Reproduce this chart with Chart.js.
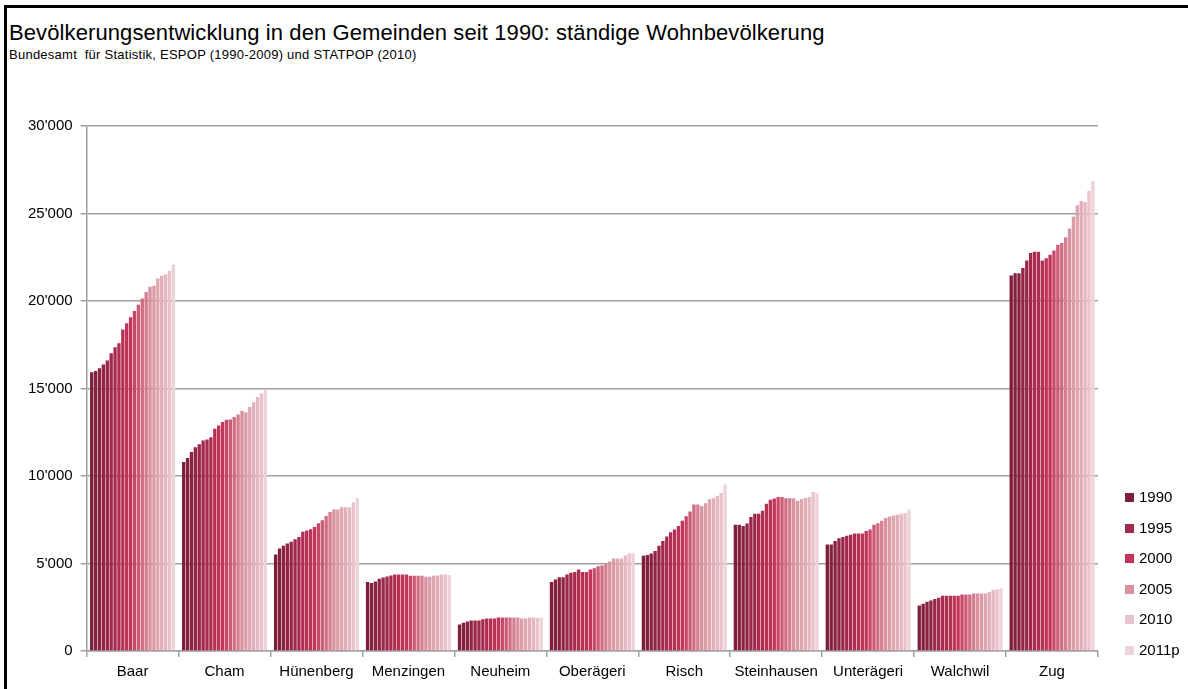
<!DOCTYPE html>
<html>
<head>
<meta charset="utf-8">
<script src="https://cdn.jsdelivr.net/npm/chart.js@4.4.1/dist/chart.umd.min.js"></script>
<style>
  html, body { margin: 0; padding: 0; background: #fff; }
  #wrap { position: relative; width: 1188px; height: 689px; overflow: hidden; }
  #frame { position: absolute; left: 4px; top: 5px; width: 1200px; height: 700px;
           border-left: 3px solid #000; border-top: 3px solid #000; }
  #title { position: absolute; left: 9px; top: 20px; font: 22px "Liberation Sans", Arial, sans-serif;
           color: #000; letter-spacing: 0.1px; white-space: pre; }
  #subtitle { position: absolute; left: 9px; top: 47px; font: 13px "Liberation Sans", Arial, sans-serif;
              color: #000; letter-spacing: 0.25px; white-space: pre; }
  #legende { position: absolute; left: 1125px; top: 0; font: 15px "Liberation Sans", Arial, sans-serif; color: #000; }
  .eintrag { position: absolute; left: 0; height: 18px; line-height: 18px; white-space: nowrap; }
  .eintrag span { display: inline-block; width: 9px; height: 9px; margin-right: 5px; vertical-align: 0; }
  canvas { position: absolute; left: 0; top: 0; }
</style>
</head>
<body>
<div id="wrap">
  <div id="frame"></div>
  <div id="title">Bevölkerungsentwicklung in den Gemeinden seit 1990: ständige Wohnbevölkerung</div>
  <div id="subtitle">Bundesamt  für Statistik, ESPOP (1990-2009) und STATPOP (2010)</div>
  <canvas id="chart" width="1188" height="689"></canvas>
  <div id="legende"></div>
</div>
<script>
// Gemeinden und Jahre
const gemeinden = ['Baar', 'Cham', 'Hünenberg', 'Menzingen', 'Neuheim', 'Oberägeri',
                   'Risch', 'Steinhausen', 'Unterägeri', 'Walchwil', 'Zug'];
const jahre = ['1990', '1991', '1992', '1993', '1994', '1995', '1996', '1997', '1998', '1999', '2000',
               '2001', '2002', '2003', '2004', '2005', '2006', '2007', '2008', '2009', '2010', '2011p'];
const legendeJahre = ['1990', '1995', '2000', '2005', '2010', '2011p'];

// ständige Wohnbevölkerung 1990..2011p (aus der Grafik geschätzt)
const baar = [15930, 16000, 16160, 16370, 16600, 17020, 17360, 17590, 18370, 18730, 19070,
              19430, 19790, 20150, 20510, 20820, 20870, 21290, 21440, 21520, 21730, 22090];
const cham = [10800, 11030, 11370, 11650, 11810, 12030, 12090, 12220, 12700, 12890, 13080,
              13210, 13230, 13370, 13520, 13710, 13650, 13940, 14220, 14510, 14730, 14960];
const huenenberg = [5510, 5860, 6010, 6140, 6240, 6390, 6520, 6810, 6880, 6960, 7090,
                    7300, 7470, 7720, 7950, 8080, 8080, 8210, 8210, 8210, 8500, 8730];
const menzingen = [3940, 3880, 3970, 4130, 4200, 4260, 4320, 4370, 4370, 4370, 4370,
                   4300, 4300, 4300, 4300, 4240, 4240, 4300, 4320, 4370, 4370, 4350];
const neuheim = [1520, 1620, 1690, 1750, 1750, 1750, 1810, 1860, 1860, 1860, 1920,
                 1920, 1920, 1920, 1920, 1920, 1860, 1860, 1920, 1920, 1880, 1920];
const oberaegeri = [3940, 4090, 4220, 4220, 4370, 4470, 4520, 4660, 4520, 4520, 4660,
                    4730, 4850, 4890, 4960, 5110, 5290, 5290, 5290, 5460, 5570, 5580];
const risch = [5440, 5480, 5570, 5720, 6010, 6290, 6540, 6790, 6940, 7150, 7450,
               7700, 7970, 8370, 8370, 8270, 8440, 8670, 8730, 8860, 9030, 9520];
const steinhausen = [7220, 7220, 7150, 7280, 7660, 7850, 7850, 8020, 8420, 8650, 8710,
                     8800, 8800, 8730, 8730, 8730, 8590, 8690, 8750, 8800, 9090, 9010];
const unteraegeri = [6080, 6080, 6290, 6440, 6520, 6580, 6640, 6710, 6710, 6710, 6860,
                     6940, 7220, 7300, 7450, 7600, 7680, 7740, 7790, 7850, 7870, 8080];
const walchwil = [2600, 2700, 2810, 2890, 2970, 3040, 3160, 3160, 3160, 3160, 3160,
                  3230, 3230, 3230, 3290, 3290, 3290, 3290, 3370, 3480, 3520, 3570];
const zug = [21460, 21590, 21590, 21890, 22310, 22750, 22820, 22820, 22310, 22440, 22650,
             22880, 23220, 23310, 23640, 24150, 24810, 25470, 25720, 25660, 26290, 26860];

const proGemeinde = [baar, cham, huenenberg, menzingen, neuheim, oberaegeri,
                     risch, steinhausen, unteraegeri, walchwil, zug];

// Farbverlauf über die Jahre (Stützfarben aus der Legende)
const stuetzen = [
  [0, [125, 31, 58]], [5, [161, 41, 74]], [10, [196, 52, 90]],
  [15, [216, 146, 159]], [20, [233, 195, 202]], [21, [237, 211, 216]]
];
function farbe(i) {
  for (let k = 0; k < stuetzen.length - 1; k++) {
    const [a, ca] = stuetzen[k], [b, cb] = stuetzen[k + 1];
    if (i >= a && i <= b) {
      const t = (i - a) / (b - a);
      const c = ca.map((v, j) => Math.round(v + (cb[j] - v) * t));
      return 'rgb(' + c.join(',') + ')';
    }
  }
}

const datasets = jahre.map((jahr, i) => ({
  label: jahr,
  data: proGemeinde.map(g => g[i]),
  backgroundColor: farbe(i),
  borderWidth: 0,
  barPercentage: 0.86,
  categoryPercentage: 0.93
}));

const schrift = { family: '"Liberation Sans", Arial, sans-serif', size: 15 };

const chart = new Chart(document.getElementById('chart'), {
  type: 'bar',
  data: { labels: gemeinden, datasets: datasets },
  options: {
    responsive: false,
    animation: false,
    layout: { padding: { left: 20, right: 90, top: 126, bottom: 2 } },
    plugins: {
      tooltip: { enabled: false },
      legend: { display: false }
    },
    scales: {
      x: {
        grid: { display: true, drawOnChartArea: false, tickLength: 6, color: '#a0a0a0', lineWidth: 1.5 },
        border: { color: '#a0a0a0', width: 1.5 },
        ticks: { color: '#000', font: schrift, padding: 6 }
      },
      y: {
        min: 0, max: 30000,
        grid: { color: '#a0a0a0', lineWidth: 1.5, tickLength: 6 },
        border: { color: '#a0a0a0', width: 1.5 },
        ticks: {
          stepSize: 5000, color: '#000', font: schrift, padding: 8,
          callback: v => v === 0 ? '0' : String(v).replace(/(\d)(?=(\d{3})+$)/g, "$1'")
        }
      }
    }
  }
});

// Legende nur für ausgewählte Jahre
const legende = document.getElementById('legende');
chart.data.datasets
  .filter(ds => legendeJahre.includes(ds.label))
  .forEach((ds, k) => {
    const el = document.createElement('div');
    el.className = 'eintrag';
    el.style.top = (497 + k * 30.6 - 9) + 'px';
    el.innerHTML = '<span style="background:' + ds.backgroundColor + '"></span>' + ds.label;
    legende.appendChild(el);
  });
</script>
</body>
</html>
